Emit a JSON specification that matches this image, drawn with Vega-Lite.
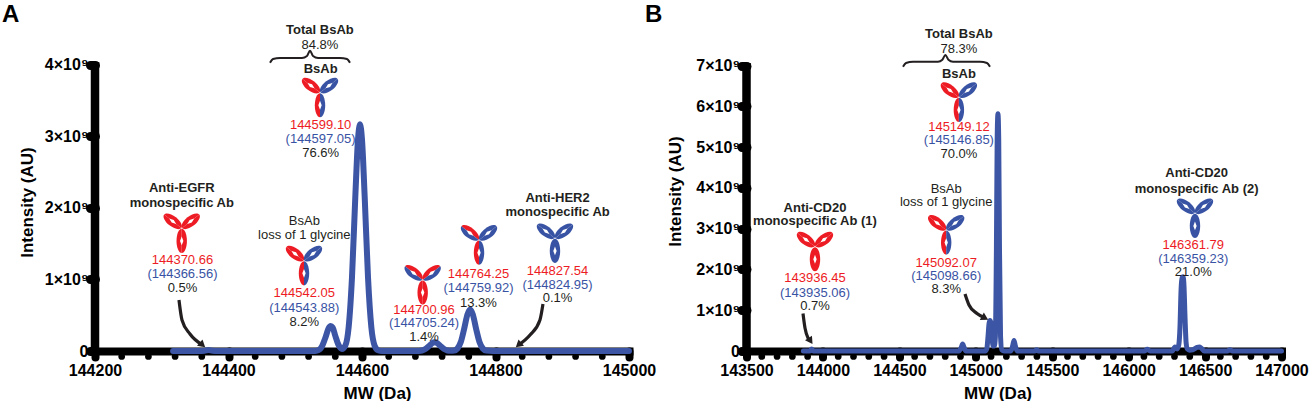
{
  "$schema": "https://vega.github.io/schema/vega-lite/v6.json",
  "padding": {"left": 2, "top": 0, "right": 0, "bottom": 0},
  "bounds": "flush",
  "spacing": 117.5,
  "datasets": {
    "spectrumA": [
      {"mw": 144317, "intensity": 0}, {"mw": 144355, "intensity": 0}, {"mw": 144364, "intensity": 4e6},
      {"mw": 144370, "intensity": 1.5e7}, {"mw": 144376, "intensity": 4e6}, {"mw": 144385, "intensity": 0},
      {"mw": 144450, "intensity": 0}, {"mw": 144520, "intensity": 0}, {"mw": 144530, "intensity": 1.6e6},
      {"mw": 144535, "intensity": 1.28e7}, {"mw": 144540, "intensity": 6.23e7}, {"mw": 144545, "intensity": 1.82e8},
      {"mw": 144550, "intensity": 3.19e8}, {"mw": 144553, "intensity": 3.5e8}, {"mw": 144556, "intensity": 3.3e8},
      {"mw": 144560, "intensity": 2.12e8}, {"mw": 144565, "intensity": 8.1e7}, {"mw": 144570, "intensity": 2.9e7},
      {"mw": 144575, "intensity": 7.5e7}, {"mw": 144580, "intensity": 3.32e8}, {"mw": 144585, "intensity": 1.029e9},
      {"mw": 144590, "intensity": 2.162e9}, {"mw": 144594, "intensity": 2.955e9}, {"mw": 144597, "intensity": 3.17e9},
      {"mw": 144600, "intensity": 2.955e9}, {"mw": 144604, "intensity": 2.162e9}, {"mw": 144609, "intensity": 1.029e9},
      {"mw": 144614, "intensity": 3.32e8}, {"mw": 144619, "intensity": 7.2e7}, {"mw": 144624, "intensity": 1.1e7},
      {"mw": 144630, "intensity": 0}, {"mw": 144680, "intensity": 0}, {"mw": 144685, "intensity": 1.4e6},
      {"mw": 144690, "intensity": 7.3e6}, {"mw": 144695, "intensity": 2.7e7}, {"mw": 144700, "intensity": 6.5e7},
      {"mw": 144705, "intensity": 1.09e8}, {"mw": 144709, "intensity": 1.23e8}, {"mw": 144713, "intensity": 1.09e8},
      {"mw": 144718, "intensity": 6.5e7}, {"mw": 144723, "intensity": 2.7e7}, {"mw": 144728, "intensity": 7.4e6},
      {"mw": 144733, "intensity": 2e6}, {"mw": 144738, "intensity": 6.4e6}, {"mw": 144743, "intensity": 3.46e7},
      {"mw": 144748, "intensity": 1.25e8}, {"mw": 144753, "intensity": 3.08e8}, {"mw": 144758, "intensity": 5.12e8},
      {"mw": 144762, "intensity": 5.8e8}, {"mw": 144766, "intensity": 5.12e8}, {"mw": 144771, "intensity": 3.08e8},
      {"mw": 144776, "intensity": 1.25e8}, {"mw": 144781, "intensity": 3.46e7}, {"mw": 144786, "intensity": 6.4e6},
      {"mw": 144795, "intensity": 0}, {"mw": 144900, "intensity": 0}, {"mw": 145000, "intensity": 0}
    ],
    "spectrumB": [
      {"mw": 143872, "intensity": 0}, {"mw": 143915, "intensity": 0}, {"mw": 143926, "intensity": 5e7},
      {"mw": 143937, "intensity": 0}, {"mw": 144890, "intensity": 0}, {"mw": 144905, "intensity": 9e7},
      {"mw": 144914, "intensity": 1.7e8}, {"mw": 144923, "intensity": 9e7}, {"mw": 144935, "intensity": 0},
      {"mw": 145062, "intensity": 0}, {"mw": 145072, "intensity": 5e7}, {"mw": 145080, "intensity": 3.5e8},
      {"mw": 145087, "intensity": 6.8e8}, {"mw": 145093, "intensity": 7.5e8}, {"mw": 145100, "intensity": 6.8e8},
      {"mw": 145107, "intensity": 3e8}, {"mw": 145114, "intensity": 1.2e8}, {"mw": 145121, "intensity": 1.2e8},
      {"mw": 145128, "intensity": 3.5e8}, {"mw": 145135, "intensity": 2.5e9}, {"mw": 145140, "intensity": 5.2e9},
      {"mw": 145145, "intensity": 5.82e9}, {"mw": 145150, "intensity": 5.2e9}, {"mw": 145155, "intensity": 2.5e9},
      {"mw": 145162, "intensity": 3.5e8}, {"mw": 145170, "intensity": 3e7}, {"mw": 145185, "intensity": 0},
      {"mw": 145230, "intensity": 0}, {"mw": 145242, "intensity": 1.4e8}, {"mw": 145250, "intensity": 2.6e8},
      {"mw": 145258, "intensity": 1.4e8}, {"mw": 145270, "intensity": 0}, {"mw": 145385, "intensity": 0},
      {"mw": 145398, "intensity": 3e7}, {"mw": 145410, "intensity": 0}, {"mw": 146105, "intensity": 0},
      {"mw": 146122, "intensity": 4e7}, {"mw": 146140, "intensity": 0}, {"mw": 146285, "intensity": 0},
      {"mw": 146303, "intensity": 1e8}, {"mw": 146318, "intensity": 5e7}, {"mw": 146328, "intensity": 1.5e8},
      {"mw": 146336, "intensity": 6e8}, {"mw": 146343, "intensity": 1.5e9}, {"mw": 146350, "intensity": 1.8e9},
      {"mw": 146356, "intensity": 1.82e9}, {"mw": 146362, "intensity": 1.6e9}, {"mw": 146369, "intensity": 8e8},
      {"mw": 146376, "intensity": 2e8}, {"mw": 146384, "intensity": 5e7}, {"mw": 146398, "intensity": 2e7},
      {"mw": 146420, "intensity": 3e7}, {"mw": 146448, "intensity": 9e7}, {"mw": 146462, "intensity": 1e8},
      {"mw": 146476, "intensity": 7e7}, {"mw": 146495, "intensity": 0}, {"mw": 146645, "intensity": 0},
      {"mw": 146663, "intensity": 3e7}, {"mw": 146680, "intensity": 0}, {"mw": 147000, "intensity": 0}
    ],
    "minorA": [
      {"mw": 144240}, {"mw": 144280}, {"mw": 144320}, {"mw": 144360}, {"mw": 144440}, {"mw": 144480},
      {"mw": 144520}, {"mw": 144560}, {"mw": 144640}, {"mw": 144680}, {"mw": 144720}, {"mw": 144760},
      {"mw": 144840}, {"mw": 144880}, {"mw": 144920}, {"mw": 144960}
    ],
    "minorB": [
      {"mw": 143600}, {"mw": 143700}, {"mw": 143800}, {"mw": 143900}, {"mw": 144100}, {"mw": 144200},
      {"mw": 144300}, {"mw": 144400}, {"mw": 144600}, {"mw": 144700}, {"mw": 144800}, {"mw": 144900},
      {"mw": 145100}, {"mw": 145200}, {"mw": 145300}, {"mw": 145400}, {"mw": 145600}, {"mw": 145700},
      {"mw": 145800}, {"mw": 145900}, {"mw": 146100}, {"mw": 146200}, {"mw": 146300}, {"mw": 146400},
      {"mw": 146600}, {"mw": 146700}, {"mw": 146800}, {"mw": 146900}
    ],
    "braceA": [
      {"mw": 144462.2, "intensity": 4.032e9}, {"mw": 144466.7, "intensity": 4.084e9}, {"mw": 144477.2, "intensity": 4.098e9},
      {"mw": 144510.1, "intensity": 4.098e9}, {"mw": 144517.6, "intensity": 4.126e9}, {"mw": 144522.1, "intensity": 4.2e9},
      {"mw": 144526.6, "intensity": 4.126e9}, {"mw": 144534.1, "intensity": 4.098e9}, {"mw": 144567.0, "intensity": 4.098e9},
      {"mw": 144577.5, "intensity": 4.084e9}, {"mw": 144582.0, "intensity": 4.032e9}
    ],
    "braceB": [
      {"mw": 144523.8, "intensity": 6.977e9}, {"mw": 144543.5, "intensity": 7.067e9}, {"mw": 144589.3, "intensity": 7.099e9},
      {"mw": 144752.8, "intensity": 7.099e9}, {"mw": 144781.6, "intensity": 7.149e9}, {"mw": 144801.2, "intensity": 7.264e9},
      {"mw": 144820.8, "intensity": 7.149e9}, {"mw": 144850.9, "intensity": 7.099e9}, {"mw": 145027.6, "intensity": 7.099e9},
      {"mw": 145073.4, "intensity": 7.067e9}, {"mw": 145093.0, "intensity": 6.977e9}
    ],
    "arrowsA": [
      {"arrow": "egfr", "mw": 144325.8, "intensity": 7.13e8}, {"arrow": "egfr", "mw": 144330.3, "intensity": 4.34e8},
      {"arrow": "egfr", "mw": 144342.3, "intensity": 2.38e8}, {"arrow": "egfr", "mw": 144361.0, "intensity": 8.4e7},
      {"arrow": "her2", "mw": 144871.1, "intensity": 6.57e8}, {"arrow": "her2", "mw": 144866.6, "intensity": 4.34e8},
      {"arrow": "her2", "mw": 144851.7, "intensity": 2.24e8}, {"arrow": "her2", "mw": 144834.5, "intensity": 8.4e7}
    ],
    "arrowsB": [
      {"arrow": "cd20", "mw": 143869.6, "intensity": 9.2e8}, {"arrow": "cd20", "mw": 143882.7, "intensity": 5.64e8},
      {"arrow": "cd20", "mw": 143902.3, "intensity": 3.19e8}, {"arrow": "cd20", "mw": 143918.7, "intensity": 2.45e8},
      {"arrow": "gly", "mw": 144929.4, "intensity": 1.399e9}, {"arrow": "gly", "mw": 144955.6, "intensity": 1.129e9},
      {"arrow": "gly", "mw": 145007.9, "intensity": 9.2e8}, {"arrow": "gly", "mw": 145060.3, "intensity": 8.1e8}
    ],
    "iconsA": [
      {"mw": 144329.9, "intensity": 1.716e9, "hL": "anti-EGFR", "lL": "anti-EGFR", "hR": "anti-EGFR", "lR": "anti-EGFR", "sL": "anti-EGFR", "sR": "anti-EGFR"},
      {"mw": 144513.1, "intensity": 1.263e9, "hL": "anti-EGFR", "lL": "anti-EGFR", "hR": "anti-HER2", "lR": "anti-HER2", "sL": "anti-EGFR", "sR": "anti-HER2"},
      {"mw": 144537.1, "intensity": 3.613e9, "hL": "anti-EGFR", "lL": "anti-EGFR", "hR": "anti-HER2", "lR": "anti-HER2", "sL": "anti-EGFR", "sR": "anti-HER2"},
      {"mw": 144690.9, "intensity": 0.993e9, "hL": "anti-EGFR", "lL": "anti-HER2", "hR": "anti-EGFR", "lR": "anti-HER2", "sL": "anti-EGFR", "sR": "anti-EGFR"},
      {"mw": 144775.3, "intensity": 1.552e9, "hL": "anti-EGFR", "lL": "anti-HER2", "hR": "anti-HER2", "lR": "anti-HER2", "sL": "anti-EGFR", "sR": "anti-HER2"},
      {"mw": 144889.1, "intensity": 1.576e9, "hL": "anti-HER2", "lL": "anti-HER2", "hR": "anti-HER2", "lR": "anti-HER2", "sL": "anti-HER2", "sR": "anti-HER2"}
    ],
    "iconsB": [
      {"mw": 143948, "intensity": 2.56e9, "hL": "anti-CD20 (1)", "lL": "anti-CD20 (1)", "hR": "anti-CD20 (1)", "lR": "anti-CD20 (1)", "sL": "anti-CD20 (1)", "sR": "anti-CD20 (1)"},
      {"mw": 144806.4, "intensity": 2.969e9, "hL": "anti-CD20 (1)", "lL": "anti-CD20 (1)", "hR": "anti-CD20 (2)", "lR": "anti-CD20 (2)", "sL": "anti-CD20 (1)", "sR": "anti-CD20 (2)"},
      {"mw": 144889.5, "intensity": 6.226e9, "hL": "anti-CD20 (1)", "lL": "anti-CD20 (1)", "hR": "anti-CD20 (2)", "lR": "anti-CD20 (2)", "sL": "anti-CD20 (1)", "sR": "anti-CD20 (2)"},
      {"mw": 146434, "intensity": 3.379e9, "hL": "anti-CD20 (2)", "lL": "anti-CD20 (2)", "hR": "anti-CD20 (2)", "lR": "anti-CD20 (2)", "sL": "anti-CD20 (2)", "sR": "anti-CD20 (2)"}
    ],
    "labelsA": [
      {"mw": 144060.7, "intensity": 4.699e9, "text": "A", "kind": "letter"},
      {"mw": 144537, "intensity": 4.483e9, "text": "Total BsAb", "kind": "head"},
      {"mw": 144537, "intensity": 4.28e9, "text": "84.8%", "kind": "pct"},
      {"mw": 144538, "intensity": 3.944e9, "text": "BsAb", "kind": "head"},
      {"mw": 144538, "intensity": 3.161e9, "text": "144599.10", "kind": "obs"},
      {"mw": 144538, "intensity": 2.961e9, "text": "(144597.05)", "kind": "theo"},
      {"mw": 144538, "intensity": 2.765e9, "text": "76.6%", "kind": "pct"},
      {"mw": 144330, "intensity": 2.276e9, "text": "Anti-EGFR", "kind": "head"},
      {"mw": 144330, "intensity": 2.074e9, "text": "monospecific Ab", "kind": "head"},
      {"mw": 144331, "intensity": 1.273e9, "text": "144370.66", "kind": "obs"},
      {"mw": 144331, "intensity": 1.073e9, "text": "(144366.56)", "kind": "theo"},
      {"mw": 144331, "intensity": 0.877e9, "text": "0.5%", "kind": "pct"},
      {"mw": 144513.6, "intensity": 1.815e9, "text": "BsAb", "kind": "note"},
      {"mw": 144513.6, "intensity": 1.628e9, "text": "loss of 1 glycine", "kind": "note"},
      {"mw": 144513.6, "intensity": 0.807e9, "text": "144542.05", "kind": "obs"},
      {"mw": 144513.6, "intensity": 0.607e9, "text": "(144543.88)", "kind": "theo"},
      {"mw": 144513.6, "intensity": 0.406e9, "text": "8.2%", "kind": "pct"},
      {"mw": 144693, "intensity": 0.573e9, "text": "144700.96", "kind": "obs"},
      {"mw": 144693, "intensity": 0.387e9, "text": "(144705.24)", "kind": "theo"},
      {"mw": 144693, "intensity": 0.192e9, "text": "1.4%", "kind": "pct"},
      {"mw": 144774.5, "intensity": 1.077e9, "text": "144764.25", "kind": "obs"},
      {"mw": 144774.5, "intensity": 0.877e9, "text": "(144759.92)", "kind": "theo"},
      {"mw": 144774.5, "intensity": 0.676e9, "text": "13.3%", "kind": "pct"},
      {"mw": 144893, "intensity": 2.136e9, "text": "Anti-HER2", "kind": "head"},
      {"mw": 144893, "intensity": 1.94e9, "text": "monospecific Ab", "kind": "head"},
      {"mw": 144893, "intensity": 1.123e9, "text": "144827.54", "kind": "obs"},
      {"mw": 144893, "intensity": 0.923e9, "text": "(144824.95)", "kind": "theo"},
      {"mw": 144893, "intensity": 0.737e9, "text": "0.1%", "kind": "pct"}
    ],
    "labelsB": [
      {"mw": 142836, "intensity": 8.245e9, "text": "B", "kind": "letter"},
      {"mw": 144889.5, "intensity": 7.772e9, "text": "Total BsAb", "kind": "head"},
      {"mw": 144889.5, "intensity": 7.404e9, "text": "78.3%", "kind": "pct"},
      {"mw": 144889.5, "intensity": 6.798e9, "text": "BsAb", "kind": "head"},
      {"mw": 144889.5, "intensity": 5.504e9, "text": "145149.12", "kind": "obs"},
      {"mw": 144889.5, "intensity": 5.178e9, "text": "(145146.85)", "kind": "theo"},
      {"mw": 144889.5, "intensity": 4.834e9, "text": "70.0%", "kind": "pct"},
      {"mw": 144806.4, "intensity": 3.975e9, "text": "BsAb", "kind": "note"},
      {"mw": 144806.4, "intensity": 3.644e9, "text": "loss of 1 glycine", "kind": "note"},
      {"mw": 144806.4, "intensity": 2.152e9, "text": "145092.07", "kind": "obs"},
      {"mw": 144806.4, "intensity": 1.84e9, "text": "(145098.66)", "kind": "theo"},
      {"mw": 144806.4, "intensity": 1.514e9, "text": "8.3%", "kind": "pct"},
      {"mw": 143948, "intensity": 3.502e9, "text": "Anti-CD20", "kind": "head"},
      {"mw": 143948, "intensity": 3.198e9, "text": "monospecific Ab (1)", "kind": "head"},
      {"mw": 143948, "intensity": 1.799e9, "text": "143936.45", "kind": "obs"},
      {"mw": 143948, "intensity": 1.431e9, "text": "(143935.06)", "kind": "theo"},
      {"mw": 143948, "intensity": 1.104e9, "text": "0.7%", "kind": "pct"},
      {"mw": 146445, "intensity": 4.375e9, "text": "Anti-CD20", "kind": "head"},
      {"mw": 146445, "intensity": 3.983e9, "text": "monospecific Ab (2)", "kind": "head"},
      {"mw": 146423, "intensity": 2.601e9, "text": "146361.79", "kind": "obs"},
      {"mw": 146423, "intensity": 2.25e9, "text": "(146359.23)", "kind": "theo"},
      {"mw": 146423, "intensity": 1.946e9, "text": "21.0%", "kind": "pct"}
    ]
  },
  "hconcat": [
    {
      "width": 534,
      "height": 351,
      "layer": [
        {
          "data": {"values": [{}]},
          "mark": {"type": "rule", "color": "#000", "strokeWidth": 8.5},
          "encoding": {
            "x": {"datum": 144200, "type": "quantitative"},
            "y": {"datum": -60000000, "type": "quantitative"},
            "y2": {"datum": 4040000000}
          }
        },
        {
          "data": {"name": "minorA"},
          "mark": {"type": "point", "filled": true, "color": "#000", "opacity": 1, "size": 45, "yOffset": 5.5},
          "encoding": {
            "x": {"field": "mw", "type": "quantitative"},
            "y": {"datum": 0, "type": "quantitative"}
          }
        },
        {
          "data": {"name": "spectrumA"},
          "mark": {"type": "line", "color": "#3c55a5", "strokeWidth": 6, "interpolate": "monotone", "strokeCap": "round", "strokeJoin": "round"},
          "encoding": {
            "x": {
              "field": "mw", "type": "quantitative",
              "scale": {"domain": [144200, 145000], "nice": false, "zero": false},
              "axis": {"title": "MW (Da)", "values": [144200, 144400, 144600, 144800, 145000], "format": "d", "titleX": 282, "titleY": 34}
            },
            "y": {
              "field": "intensity", "type": "quantitative",
              "scale": {"domain": [0, 4909000000], "nice": false},
              "axis": {"title": "Intensity (AU)", "values": [0, 1e9, 2e9, 3e9, 4e9], "labelExpr": "datum.value == 0 ? '0' : format(datum.value / 1e9, 'd') + '×10⁹'", "titleX": -67.5, "titleY": 202}
            }
          }
        },
        {
          "data": {"name": "arrowsA"},
          "mark": {"type": "line", "color": "#231f20", "strokeWidth": 3.2, "interpolate": "monotone"},
          "encoding": {
            "x": {"field": "mw", "type": "quantitative"},
            "y": {"field": "intensity", "type": "quantitative"},
            "detail": {"field": "arrow"}
          }
        },
        {
          "data": {"values": [{"mw": 144361.0, "intensity": 8.4e7}]},
          "mark": {"type": "point", "shape": "triangle-right", "filled": true, "color": "#231f20", "opacity": 1, "size": 70, "angle": 41},
          "encoding": {"x": {"field": "mw", "type": "quantitative"}, "y": {"field": "intensity", "type": "quantitative"}}
        },
        {
          "data": {"values": [{"mw": 144834.5, "intensity": 8.4e7}]},
          "mark": {"type": "point", "shape": "triangle-right", "filled": true, "color": "#231f20", "opacity": 1, "size": 70, "angle": 139},
          "encoding": {"x": {"field": "mw", "type": "quantitative"}, "y": {"field": "intensity", "type": "quantitative"}}
        },
        {
          "data": {"name": "braceA"},
          "mark": {"type": "line", "color": "#231f20", "strokeWidth": 2, "interpolate": "monotone"},
          "encoding": {
            "x": {"field": "mw", "type": "quantitative"},
            "y": {"field": "intensity", "type": "quantitative"}
          }
        },
        {
          "data": {"name": "iconsA"},
          "transform": [{"fold": ["hL", "lL", "hR", "lR", "sL", "sR"], "as": ["piece", "chain"]}],
          "mark": {"type": "point", "filled": true, "opacity": 1, "size": 2700, "strokeWidth": 0},
          "encoding": {
            "x": {"field": "mw", "type": "quantitative"},
            "y": {"field": "intensity", "type": "quantitative"},
            "shape": {
              "field": "piece", "type": "nominal", "legend": null,
              "scale": {
                "domain": ["hL", "lL", "hR", "lR", "sL", "sR"],
                "range": [
                  "M -0.678 -0.53 A 0.42 0.2 38 0 1 -0.016 -0.012 Z",
                  "M -0.678 -0.53 A 0.42 0.2 38 0 0 -0.016 -0.012 Z",
                  "M 0.678 -0.53 A 0.42 0.2 -38 0 0 0.016 -0.012 Z",
                  "M 0.678 -0.53 A 0.42 0.2 -38 0 1 0.016 -0.012 Z",
                  "M 0 0.02 A 0.2 0.465 0 0 0 0 0.95 Z",
                  "M 0 0.02 A 0.2 0.465 0 0 1 0 0.95 Z"
                ]
              }
            },
            "fill": {
              "field": "chain", "type": "nominal", "legend": null,
              "scale": {"domain": ["anti-EGFR", "anti-HER2", "anti-CD20 (1)", "anti-CD20 (2)"], "range": ["#ed1c24", "#3953a4", "#ed1c24", "#3953a4"]}
            }
          }
        },
        {
          "data": {"name": "iconsA"},
          "mark": {"type": "point", "filled": true, "fill": "#ffffff", "opacity": 1, "size": 2700, "strokeWidth": 0,
            "shape": "M -0.481 -0.376 L -0.307 -0.322 L -0.213 -0.166 L -0.387 -0.22 Z M 0.481 -0.376 L 0.307 -0.322 L 0.213 -0.166 L 0.387 -0.22 Z M 0 0.315 L 0.065 0.485 L 0 0.655 L -0.065 0.485 Z"},
          "encoding": {
            "x": {"field": "mw", "type": "quantitative"},
            "y": {"field": "intensity", "type": "quantitative"}
          }
        },
        {
          "data": {"name": "labelsA"},
          "transform": [{"filter": "datum.kind == 'head'"}],
          "mark": {"type": "text", "fontSize": 13, "fontWeight": "bold", "color": "#231f20", "baseline": "middle"},
          "encoding": {
            "x": {"field": "mw", "type": "quantitative"},
            "y": {"field": "intensity", "type": "quantitative"},
            "text": {"field": "text", "type": "nominal"}
          }
        },
        {
          "data": {"name": "labelsA"},
          "transform": [{"filter": "datum.kind != 'head' && datum.kind != 'letter'"}],
          "mark": {"type": "text", "baseline": "middle"},
          "encoding": {
            "x": {"field": "mw", "type": "quantitative"},
            "y": {"field": "intensity", "type": "quantitative"},
            "text": {"field": "text", "type": "nominal"},
            "color": {"field": "kind", "type": "nominal", "legend": null, "scale": {"domain": ["obs", "theo", "pct", "note"], "range": ["#ed1c24", "#3953a4", "#231f20", "#231f20"]}},
            "size": {"field": "kind", "type": "ordinal", "legend": null, "scale": {"domain": ["obs", "theo", "pct", "note"], "range": [13, 13, 13, 12.3]}}
          }
        },
        {
          "data": {"name": "labelsA"},
          "transform": [{"filter": "datum.kind == 'letter'"}],
          "mark": {"type": "text", "align": "left", "baseline": "middle", "fontSize": 24, "fontWeight": "bold", "color": "#000"},
          "encoding": {
            "x": {"field": "mw", "type": "quantitative"},
            "y": {"field": "intensity", "type": "quantitative"},
            "text": {"field": "text", "type": "nominal"}
          }
        }
      ]
    },
    {
      "width": 535,
      "height": 351,
      "layer": [
        {
          "data": {"values": [{}]},
          "mark": {"type": "rule", "color": "#000", "strokeWidth": 8.5},
          "encoding": {
            "x": {"datum": 143500, "type": "quantitative"},
            "y": {"datum": -100000000, "type": "quantitative"},
            "y2": {"datum": 7070000000}
          }
        },
        {
          "data": {"name": "minorB"},
          "mark": {"type": "point", "filled": true, "color": "#000", "opacity": 1, "size": 45, "yOffset": 5.5},
          "encoding": {
            "x": {"field": "mw", "type": "quantitative"},
            "y": {"datum": 0, "type": "quantitative"}
          }
        },
        {
          "data": {"name": "spectrumB"},
          "mark": {"type": "line", "color": "#3c55a5", "strokeWidth": 5, "interpolate": "monotone", "strokeCap": "round", "strokeJoin": "round"},
          "encoding": {
            "x": {
              "field": "mw", "type": "quantitative",
              "scale": {"domain": [143500, 147000], "nice": false, "zero": false},
              "axis": {"title": "MW (Da)", "values": [143500, 144000, 144500, 145000, 145500, 146000, 146500, 147000], "format": "d", "titleX": 251, "titleY": 34}
            },
            "y": {
              "field": "intensity", "type": "quantitative",
              "scale": {"domain": [0, 8613000000], "nice": false},
              "axis": {"title": "Intensity (AU)", "values": [0, 1e9, 2e9, 3e9, 4e9, 5e9, 6e9, 7e9], "labelExpr": "datum.value == 0 ? '0' : format(datum.value / 1e9, 'd') + '×10⁹'", "titleX": -71.5, "titleY": 191}
            }
          }
        },
        {
          "data": {"name": "arrowsB"},
          "mark": {"type": "line", "color": "#231f20", "strokeWidth": 3.2, "interpolate": "monotone"},
          "encoding": {
            "x": {"field": "mw", "type": "quantitative"},
            "y": {"field": "intensity", "type": "quantitative"},
            "detail": {"field": "arrow"}
          }
        },
        {
          "data": {"values": [{"mw": 143918.7, "intensity": 2.45e8}]},
          "mark": {"type": "point", "shape": "triangle-right", "filled": true, "color": "#231f20", "opacity": 1, "size": 70, "angle": 56},
          "encoding": {"x": {"field": "mw", "type": "quantitative"}, "y": {"field": "intensity", "type": "quantitative"}}
        },
        {
          "data": {"values": [{"mw": 145060.3, "intensity": 8.1e8}]},
          "mark": {"type": "point", "shape": "triangle-right", "filled": true, "color": "#231f20", "opacity": 1, "size": 70, "angle": 29},
          "encoding": {"x": {"field": "mw", "type": "quantitative"}, "y": {"field": "intensity", "type": "quantitative"}}
        },
        {
          "data": {"name": "braceB"},
          "mark": {"type": "line", "color": "#231f20", "strokeWidth": 2, "interpolate": "monotone"},
          "encoding": {
            "x": {"field": "mw", "type": "quantitative"},
            "y": {"field": "intensity", "type": "quantitative"}
          }
        },
        {
          "data": {"name": "iconsB"},
          "transform": [{"fold": ["hL", "lL", "hR", "lR", "sL", "sR"], "as": ["piece", "chain"]}],
          "mark": {"type": "point", "filled": true, "opacity": 1, "size": 2700, "strokeWidth": 0},
          "encoding": {
            "x": {"field": "mw", "type": "quantitative"},
            "y": {"field": "intensity", "type": "quantitative"},
            "shape": {
              "field": "piece", "type": "nominal", "legend": null,
              "scale": {
                "domain": ["hL", "lL", "hR", "lR", "sL", "sR"],
                "range": [
                  "M -0.678 -0.53 A 0.42 0.2 38 0 1 -0.016 -0.012 Z",
                  "M -0.678 -0.53 A 0.42 0.2 38 0 0 -0.016 -0.012 Z",
                  "M 0.678 -0.53 A 0.42 0.2 -38 0 0 0.016 -0.012 Z",
                  "M 0.678 -0.53 A 0.42 0.2 -38 0 1 0.016 -0.012 Z",
                  "M 0 0.02 A 0.2 0.465 0 0 0 0 0.95 Z",
                  "M 0 0.02 A 0.2 0.465 0 0 1 0 0.95 Z"
                ]
              }
            },
            "fill": {
              "field": "chain", "type": "nominal", "legend": null,
              "scale": {"domain": ["anti-EGFR", "anti-HER2", "anti-CD20 (1)", "anti-CD20 (2)"], "range": ["#ed1c24", "#3953a4", "#ed1c24", "#3953a4"]}
            }
          }
        },
        {
          "data": {"name": "iconsB"},
          "mark": {"type": "point", "filled": true, "fill": "#ffffff", "opacity": 1, "size": 2700, "strokeWidth": 0,
            "shape": "M -0.481 -0.376 L -0.307 -0.322 L -0.213 -0.166 L -0.387 -0.22 Z M 0.481 -0.376 L 0.307 -0.322 L 0.213 -0.166 L 0.387 -0.22 Z M 0 0.315 L 0.065 0.485 L 0 0.655 L -0.065 0.485 Z"},
          "encoding": {
            "x": {"field": "mw", "type": "quantitative"},
            "y": {"field": "intensity", "type": "quantitative"}
          }
        },
        {
          "data": {"name": "labelsB"},
          "transform": [{"filter": "datum.kind == 'head'"}],
          "mark": {"type": "text", "fontSize": 13, "fontWeight": "bold", "color": "#231f20", "baseline": "middle"},
          "encoding": {
            "x": {"field": "mw", "type": "quantitative"},
            "y": {"field": "intensity", "type": "quantitative"},
            "text": {"field": "text", "type": "nominal"}
          }
        },
        {
          "data": {"name": "labelsB"},
          "transform": [{"filter": "datum.kind != 'head' && datum.kind != 'letter'"}],
          "mark": {"type": "text", "baseline": "middle"},
          "encoding": {
            "x": {"field": "mw", "type": "quantitative"},
            "y": {"field": "intensity", "type": "quantitative"},
            "text": {"field": "text", "type": "nominal"},
            "color": {"field": "kind", "type": "nominal", "legend": null, "scale": {"domain": ["obs", "theo", "pct", "note"], "range": ["#ed1c24", "#3953a4", "#231f20", "#231f20"]}},
            "size": {"field": "kind", "type": "ordinal", "legend": null, "scale": {"domain": ["obs", "theo", "pct", "note"], "range": [13, 13, 13, 12.3]}}
          }
        },
        {
          "data": {"name": "labelsB"},
          "transform": [{"filter": "datum.kind == 'letter'"}],
          "mark": {"type": "text", "align": "left", "baseline": "middle", "fontSize": 24, "fontWeight": "bold", "color": "#000"},
          "encoding": {
            "x": {"field": "mw", "type": "quantitative"},
            "y": {"field": "intensity", "type": "quantitative"},
            "text": {"field": "text", "type": "nominal"}
          }
        }
      ]
    }
  ],
  "config": {
    "view": {"stroke": null},
    "font": "Liberation Sans",
    "axis": {
      "grid": false,
      "domainColor": "#000",
      "tickColor": "#000",
      "labelColor": "#000",
      "titleColor": "#000",
      "labelFont": "Liberation Sans",
      "titleFont": "Liberation Sans",
      "labelFontWeight": "bold",
      "titleFontWeight": "bold",
      "labelFontSize": 16,
      "titleFontSize": 17,
      "tickCap": "round"
    },
    "axisX": {
      "domainWidth": 8,
      "domainCap": "square",
      "tickWidth": 8,
      "tickSize": 6,
      "labelPadding": 5,
      "labelFlush": false,
      "titleBaseline": "top"
    },
    "axisY": {
      "domain": false,
      "tickWidth": 9,
      "tickSize": 5,
      "labelPadding": 2,
      "titleBaseline": "middle",
      "titleAngle": -90
    }
  }
}
